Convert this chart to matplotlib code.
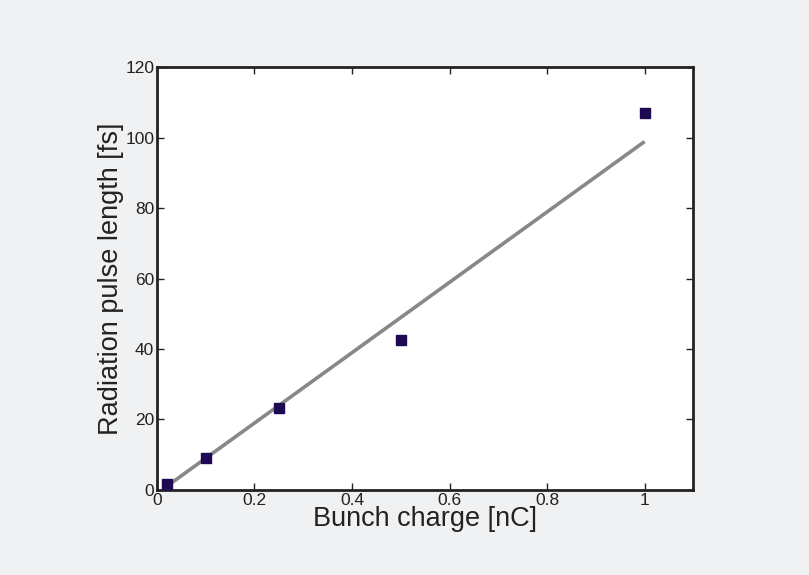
import matplotlib
matplotlib.use("Agg")
import matplotlib.pyplot as plt
from matplotlib.ticker import FuncFormatter

charge = [0.02, 0.1, 0.25, 0.5, 1.0]
pulse_len = [1.6, 9.0, 23.2, 42.6, 107.1]
fit_x = [0.02, 1.0]
fit_y = [1.0, 98.9]
xticks = [0, 0.2, 0.4, 0.6, 0.8, 1.0]
yticks = [0, 20, 40, 60, 80, 100, 120]

plt.rcParams['font.family'] = ['Liberation Sans', 'DejaVu Sans']

fig = plt.figure(figsize=(8.09, 5.75), dpi=100, facecolor='#f0f1f3')
ax = fig.add_axes([0.194, 0.148, 0.663, 0.735])
ax.set_facecolor('white')

ax.plot(fit_x, fit_y, color='#888888', lw=2.6, solid_capstyle='butt', zorder=2)
ax.plot(charge, pulse_len, 's', color='#1e0a52', ms=7.5, mec='#1e0a52', zorder=3)

ax.set_xlim(0, 1.1)
ax.set_ylim(0, 120)
ax.set_xticks(xticks)
ax.set_yticks(yticks)
ax.xaxis.set_major_formatter(FuncFormatter(lambda v, p: ('%g' % v)))
ax.tick_params(direction='in', top=True, right=True, length=5, width=1,
               labelsize=12.5, colors='#222222', pad=2)
for s in ax.spines.values():
    s.set_linewidth(2)
    s.set_color('#222222')

ax.set_xlabel('Bunch charge [nC]', fontsize=19.5, color='#222222', labelpad=-1)
ax.set_ylabel('Radiation pulse length [fs]', fontsize=19.5, color='#222222', labelpad=1)

fig.savefig('out.png', dpi=100, facecolor=fig.get_facecolor())
